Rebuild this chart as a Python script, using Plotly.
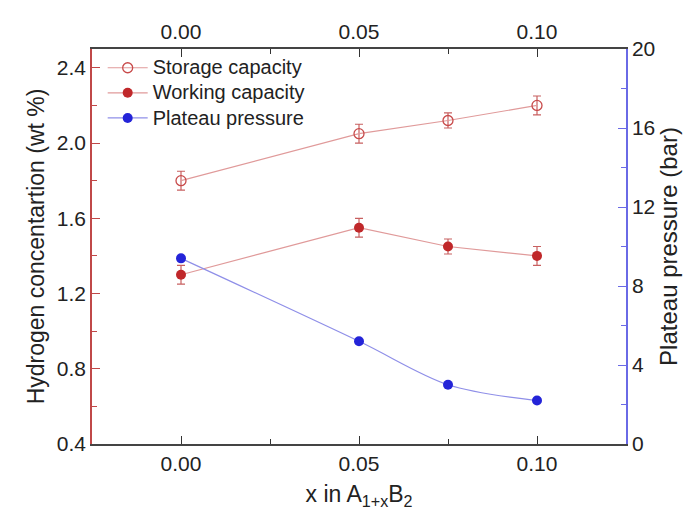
import plotly.graph_objects as go

x_vals = [0.0, 0.05, 0.075, 0.10]
storage = [1.80, 2.05, 2.12, 2.20]
storage_err = [0.05, 0.05, 0.04, 0.05]
working = [1.30, 1.55, 1.45, 1.40]
working_err = [0.05, 0.05, 0.04, 0.05]
pressure = [9.4, 5.2, 3.0, 2.2]

series_names = ["Storage capacity", "Working capacity", "Plateau pressure"]
x_ticks = [0.0, 0.05, 0.10]
x_ticklabels = ["0.00", "0.05", "0.10"]
left_ticks = [0.4, 0.8, 1.2, 1.6, 2.0, 2.4]
right_ticks = [0, 4, 8, 12, 16, 20]

FONT = "Arial, Liberation Sans, sans-serif"
RED_LINE = "#e09a9a"
RED_MARK = "#c0282a"
BLUE_LINE = "#8f8fe8"
BLUE_MARK = "#2424d8"


def legend_label(s):
    return f'<span style="font-size:20px">{s}</span>'


fig = go.Figure()

fig.add_trace(go.Scatter(
    x=x_vals, y=storage, name=legend_label(series_names[0]), mode="lines+markers",
    line=dict(color=RED_LINE, width=1.2),
    marker=dict(symbol="circle-open", size=10, color="#c84a4a", line=dict(width=1.3)),
    error_y=dict(type="data", array=storage_err, color="#c86060", thickness=1.2, width=4),
    xaxis="x", yaxis="y",
))
fig.add_trace(go.Scatter(
    x=x_vals, y=working, name=legend_label(series_names[1]), mode="lines+markers",
    line=dict(color=RED_LINE, width=1.2),
    marker=dict(symbol="circle", size=10, color=RED_MARK, line=dict(width=0)),
    error_y=dict(type="data", array=working_err, color="#c86060", thickness=1.2, width=4),
    xaxis="x", yaxis="y",
))
fig.add_trace(go.Scatter(
    x=x_vals, y=pressure, name=legend_label(series_names[2]), mode="lines+markers",
    line=dict(color=BLUE_LINE, width=1.2, shape="spline", smoothing=0.9),
    marker=dict(symbol="circle", size=10, color=BLUE_MARK, line=dict(width=0)),
    xaxis="x", yaxis="y2",
))
# invisible trace to activate the top axis
fig.add_trace(go.Scatter(
    x=x_vals, y=storage, mode="markers", marker=dict(opacity=0),
    showlegend=False, hoverinfo="skip", xaxis="x2", yaxis="y",
))

axis_font = dict(family=FONT, size=21, color="#222222")

fig.update_layout(
    width=682, height=507,
    margin=dict(l=84, r=57, t=36, b=71),
    paper_bgcolor="white", plot_bgcolor="white",
    font=dict(family=FONT, size=20, color="#222222"),
    showlegend=True,
    legend=dict(x=0.02, y=0.997, xanchor="left", yanchor="top",
                bgcolor="rgba(0,0,0,0)", font=dict(family=FONT, size=17, color="#222222"),
                tracegroupgap=0, itemwidth=40),
    xaxis=dict(
        range=[-0.025, 0.125], tickvals=x_ticks, ticktext=x_ticklabels,
        ticks="inside", ticklen=8, tickcolor="#333333", tickwidth=1,
        minor=dict(ticks="inside", ticklen=5, dtick=0.025, tick0=0, tickcolor="#333333"),
        showline=True, linecolor="#444444", linewidth=1.5,
        showgrid=False, zeroline=False,
        tickfont=axis_font,
        title=dict(text="x in A<sub>1+x</sub>B<sub>2</sub>",
                   font=dict(family=FONT, size=23, color="#222222"), standoff=12),
    ),
    xaxis2=dict(
        range=[-0.025, 0.125], overlaying="x", side="top", anchor="y",
        tickvals=x_ticks, ticktext=x_ticklabels,
        ticks="inside", ticklen=8, tickcolor="#333333",
        minor=dict(ticks="inside", ticklen=5, dtick=0.025, tick0=0, tickcolor="#333333"),
        showline=True, linecolor="#444444", linewidth=1.5,
        showgrid=False, zeroline=False, tickfont=axis_font,
    ),
    yaxis=dict(
        range=[0.4, 2.5], tickvals=left_ticks, ticktext=[f"{v:.1f}" for v in left_ticks],
        ticks="inside", ticklen=8, tickcolor="#c04848",
        minor=dict(ticks="inside", ticklen=5, dtick=0.2, tick0=0.4, tickcolor="#c04848"),
        showline=True, linecolor="#c04848", linewidth=1.5,
        showgrid=False, zeroline=False, tickfont=axis_font,
        title=dict(text="Hydrogen concentartion (wt %)",
                   font=dict(family=FONT, size=23, color="#222222"), standoff=6),
    ),
    yaxis2=dict(
        range=[0, 20], tickvals=right_ticks, overlaying="y", side="right", anchor="x",
        ticks="inside", ticklen=8, tickcolor="#6a6ae6",
        minor=dict(ticks="inside", ticklen=5, dtick=2, tick0=0, tickcolor="#6a6ae6"),
        showline=True, linecolor="#6a6ae6", linewidth=1.5,
        showgrid=False, zeroline=False, tickfont=axis_font,
        title=dict(text="Plateau pressure (bar)",
                   font=dict(family=FONT, size=24, color="#222222"), standoff=6),
    ),
)

fig.write_html("out.html")
